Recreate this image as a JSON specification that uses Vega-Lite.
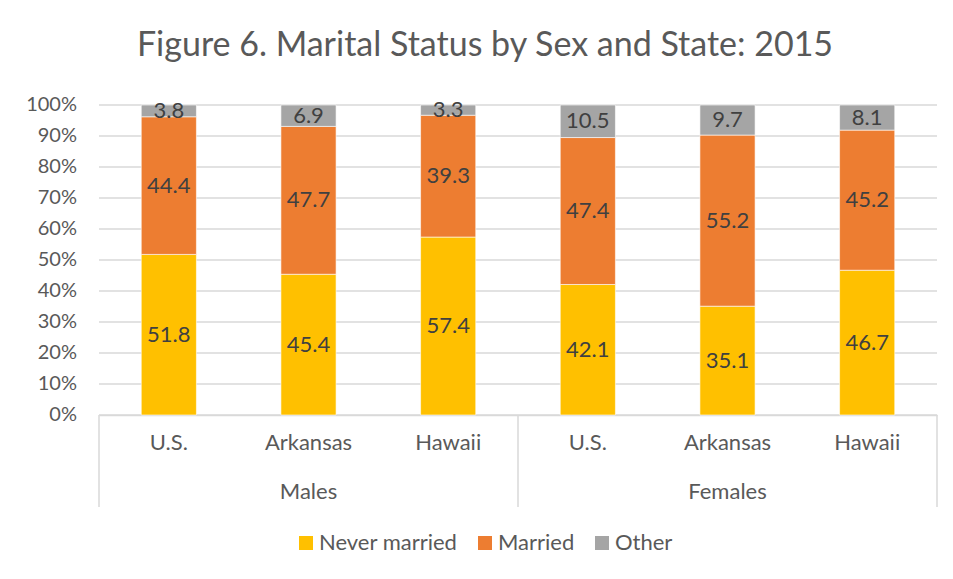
{
  "$schema": "https://vega.github.io/schema/vega-lite/v6.json",
  "width": 838,
  "height": 310,
  "autosize": {"type": "none"},
  "padding": {"left": 99, "top": 105, "right": 16, "bottom": 164},
  "background": "white",
  "title": {
    "text": "Figure 6. Marital Status by Sex and State: 2015",
    "font": "Lato",
    "fontSize": 34,
    "fontWeight": "normal",
    "color": "#595959",
    "anchor": "middle",
    "dx": -33,
    "offset": 32
  },
  "datasets": {
    "bars": [
      {"key": "U.S.|M", "status": "Never married", "ord": 1, "v": 51.8},
      {"key": "U.S.|M", "status": "Married", "ord": 2, "v": 44.4},
      {"key": "U.S.|M", "status": "Other", "ord": 3, "v": 3.8},
      {"key": "Arkansas|M", "status": "Never married", "ord": 1, "v": 45.4},
      {"key": "Arkansas|M", "status": "Married", "ord": 2, "v": 47.7},
      {"key": "Arkansas|M", "status": "Other", "ord": 3, "v": 6.9},
      {"key": "Hawaii|M", "status": "Never married", "ord": 1, "v": 57.4},
      {"key": "Hawaii|M", "status": "Married", "ord": 2, "v": 39.3},
      {"key": "Hawaii|M", "status": "Other", "ord": 3, "v": 3.3},
      {"key": "U.S.|F", "status": "Never married", "ord": 1, "v": 42.1},
      {"key": "U.S.|F", "status": "Married", "ord": 2, "v": 47.4},
      {"key": "U.S.|F", "status": "Other", "ord": 3, "v": 10.5},
      {"key": "Arkansas|F", "status": "Never married", "ord": 1, "v": 35.1},
      {"key": "Arkansas|F", "status": "Married", "ord": 2, "v": 55.2},
      {"key": "Arkansas|F", "status": "Other", "ord": 3, "v": 9.7},
      {"key": "Hawaii|F", "status": "Never married", "ord": 1, "v": 46.7},
      {"key": "Hawaii|F", "status": "Married", "ord": 2, "v": 45.2},
      {"key": "Hawaii|F", "status": "Other", "ord": 3, "v": 8.1}
    ],
    "ticks": [
      {"p": 0}, {"p": 0.1}, {"p": 0.2}, {"p": 0.3}, {"p": 0.4}, {"p": 0.5},
      {"p": 0.6}, {"p": 0.7}, {"p": 0.8}, {"p": 0.9}, {"p": 1}
    ],
    "leftEdges": [{"key": "U.S.|M"}, {"key": "U.S.|F"}],
    "rightEdges": [{"key": "Hawaii|F"}],
    "groups": [
      {"key": "Arkansas|M", "sex": "Males"},
      {"key": "Arkansas|F", "sex": "Females"}
    ]
  },
  "layer": [
    {
      "data": {"name": "ticks"},
      "mark": {"type": "rule", "color": "#D9D9D9", "strokeWidth": 1.5},
      "encoding": {
        "y": {"field": "p", "type": "quantitative", "axis": null}
      }
    },
    {
      "data": {"name": "bars"},
      "mark": {"type": "bar", "width": {"band": 0.395}, "stroke": "white", "strokeWidth": 0.6},
      "encoding": {
        "x": {
          "field": "key",
          "type": "nominal",
          "scale": {
            "domain": ["U.S.|M", "Arkansas|M", "Hawaii|M", "U.S.|F", "Arkansas|F", "Hawaii|F"],
            "paddingInner": 0,
            "paddingOuter": 0
          },
          "axis": {
            "title": null,
            "bandPosition": 0.5,
            "labelAlign": "center",
            "labelBaseline": "top",
            "labelAngle": 0,
            "labelExpr": "split(datum.label, '|')[0]",
            "labelFontSize": 22,
            "labelPadding": 17,
            "labelOverlap": false,
            "ticks": false,
            "domainColor": "#D9D9D9",
            "domainWidth": 1.5
          }
        },
        "y": {
          "field": "v",
          "type": "quantitative",
          "stack": "normalize",
          "scale": {"domain": [0, 1]},
          "axis": null
        },
        "order": {"field": "ord"},
        "color": {
          "field": "status",
          "type": "nominal",
          "scale": {
            "domain": ["Never married", "Married", "Other"],
            "range": ["#FFC000", "#ED7D31", "#A5A5A5"]
          },
          "legend": {
            "title": null,
            "orient": "none",
            "direction": "horizontal",
            "legendX": 196,
            "legendY": 427,
            "symbolType": "square",
            "symbolSize": 196,
            "symbolStrokeWidth": 0,
            "labelFontSize": 22,
            "columnPadding": 16,
            "labelOffset": 2
          }
        }
      }
    },
    {
      "data": {"name": "ticks"},
      "mark": {"type": "text", "font": "Lato", "fontSize": 20, "color": "#595959", "align": "right", "baseline": "middle", "dx": -22},
      "encoding": {
        "x": {
          "datum": "U.S.|M",
          "type": "nominal",
          "bandPosition": 0,
          "axis": {
            "title": null,
            "bandPosition": 0.5,
            "labelAlign": "center",
            "labelBaseline": "top",
            "labelAngle": 0,
            "labelExpr": "split(datum.label, '|')[0]",
            "labelFontSize": 22,
            "labelPadding": 17,
            "labelOverlap": false,
            "ticks": false,
            "domainColor": "#D9D9D9",
            "domainWidth": 1.5
          }
        },
        "y": {"field": "p", "type": "quantitative", "axis": null},
        "text": {"field": "p", "type": "quantitative", "format": ".0%"}
      }
    },
    {
      "data": {"name": "bars"},
      "transform": [
        {"stack": "v", "groupby": ["key"], "sort": [{"field": "ord"}], "as": ["v0", "v1"], "offset": "normalize"},
        {"calculate": "(datum.v0 + datum.v1) / 2", "as": "mid"}
      ],
      "mark": {"type": "text", "font": "Lato", "fontSize": 22, "color": "#404040", "baseline": "middle"},
      "encoding": {
        "x": {
          "field": "key",
          "type": "nominal",
          "axis": {
            "title": null,
            "bandPosition": 0.5,
            "labelAlign": "center",
            "labelBaseline": "top",
            "labelAngle": 0,
            "labelExpr": "split(datum.label, '|')[0]",
            "labelFontSize": 22,
            "labelPadding": 17,
            "labelOverlap": false,
            "ticks": false,
            "domainColor": "#D9D9D9",
            "domainWidth": 1.5
          }
        },
        "y": {"field": "mid", "type": "quantitative", "axis": null},
        "text": {"field": "v", "type": "quantitative", "format": ".1f"}
      }
    },
    {
      "data": {"name": "leftEdges"},
      "mark": {"type": "rule", "color": "#D9D9D9", "strokeWidth": 1.5},
      "encoding": {
        "x": {
          "field": "key",
          "type": "nominal",
          "bandPosition": 0,
          "axis": {
            "title": null,
            "bandPosition": 0.5,
            "labelAlign": "center",
            "labelBaseline": "top",
            "labelAngle": 0,
            "labelExpr": "split(datum.label, '|')[0]",
            "labelFontSize": 22,
            "labelPadding": 17,
            "labelOverlap": false,
            "ticks": false,
            "domainColor": "#D9D9D9",
            "domainWidth": 1.5
          }
        },
        "y": {"datum": 0, "type": "quantitative", "axis": null},
        "y2": {"datum": -0.297}
      }
    },
    {
      "data": {"name": "rightEdges"},
      "mark": {"type": "rule", "color": "#D9D9D9", "strokeWidth": 1.5},
      "encoding": {
        "x": {
          "field": "key",
          "type": "nominal",
          "bandPosition": 1,
          "axis": {
            "title": null,
            "bandPosition": 0.5,
            "labelAlign": "center",
            "labelBaseline": "top",
            "labelAngle": 0,
            "labelExpr": "split(datum.label, '|')[0]",
            "labelFontSize": 22,
            "labelPadding": 17,
            "labelOverlap": false,
            "ticks": false,
            "domainColor": "#D9D9D9",
            "domainWidth": 1.5
          }
        },
        "y": {"datum": 0, "type": "quantitative", "axis": null},
        "y2": {"datum": -0.297}
      }
    },
    {
      "data": {"name": "groups"},
      "mark": {"type": "text", "font": "Lato", "fontSize": 22, "color": "#595959", "baseline": "middle"},
      "encoding": {
        "x": {
          "field": "key",
          "type": "nominal",
          "axis": {
            "title": null,
            "bandPosition": 0.5,
            "labelAlign": "center",
            "labelBaseline": "top",
            "labelAngle": 0,
            "labelExpr": "split(datum.label, '|')[0]",
            "labelFontSize": 22,
            "labelPadding": 17,
            "labelOverlap": false,
            "ticks": false,
            "domainColor": "#D9D9D9",
            "domainWidth": 1.5
          }
        },
        "y": {"datum": -0.248, "type": "quantitative", "axis": null},
        "text": {"field": "sex"}
      }
    }
  ],
  "config": {
    "view": {"stroke": null},
    "font": "Lato",
    "axis": {"labelFont": "Lato", "labelColor": "#595959"},
    "legend": {"labelFont": "Lato", "labelColor": "#595959"}
  }
}
